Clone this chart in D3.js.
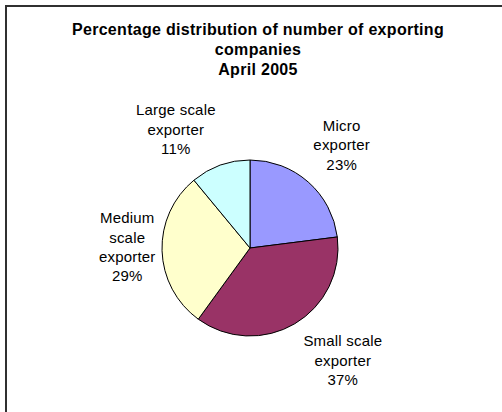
<!DOCTYPE html>
<html>
<head>
<meta charset="utf-8">
<script src="https://cdn.jsdelivr.net/npm/d3@7"></script>
<style>
  html, body { margin: 0; padding: 0; background: #fff; }
  svg { display: block; }
  text { font-family: "Liberation Sans", Arial, sans-serif; fill: #000; }
</style>
</head>
<body>
<svg id="chart" width="502" height="412"></svg>
<script>
// Exporting companies by size, April 2005 (percent of total)
const categories = ["Micro exporter", "Small scale exporter", "Medium scale exporter", "Large scale exporter"];
const values = [23, 37, 29, 11];
const colors = ["#9999FF", "#993366", "#FFFFCC", "#CCFFFF"];
const labelLines = [
  ["Micro", "exporter"],
  ["Small scale", "exporter"],
  ["Medium", "scale", "exporter"],
  ["Large scale", "exporter"]
];
const titleLines = ["Percentage distribution of number of exporting", "companies", "April 2005"];

const svg = d3.select("#chart");

// chart frame (runs past the right and bottom edges)
svg.append("rect")
  .attr("x", 6).attr("y", 6)
  .attr("width", 510).attr("height", 420)
  .attr("fill", "#fff")
  .attr("stroke", "#303030")
  .attr("stroke-width", 2);

// title
svg.append("g").selectAll("text")
  .data(titleLines)
  .join("text")
  .attr("x", 258)
  .attr("y", (d, i) => 35 + i * 20)
  .attr("text-anchor", "middle")
  .style("font-size", "16px")
  .style("font-weight", "bold")
  .style("letter-spacing", "0.3px")
  .text(d => d);

// pie
const cx = 250, cy = 248, r = 88;
const pie = d3.pie().sort(null).value(d => d.value)
  .startAngle(0).endAngle(2 * Math.PI);
const data = categories.map((c, i) => ({ cat: c, value: values[i], color: colors[i], lines: labelLines[i] }));
const arcs = pie(data);
const arc = d3.arc().innerRadius(0).outerRadius(r);

const g = svg.append("g").attr("transform", `translate(${cx},${cy})`);
g.selectAll("path")
  .data(arcs)
  .join("path")
  .attr("d", arc)
  .attr("fill", d => d.data.color)
  .attr("stroke", "#000")
  .attr("stroke-width", 1)
  .attr("stroke-linejoin", "round");

// data labels placed outside each slice
const labelArc = d3.arc().innerRadius(r * 1.18).outerRadius(r * 1.18);
const labelOffsets = [[23, -39], [40, 9], [-19, -28], [-39, -35]];
const lineH = 19.3;
arcs.forEach((a, i) => {
  const lines = a.data.lines.concat([a.data.value + "%"]);
  const [mx, my] = labelArc.centroid(a);
  const [ox, oy] = labelOffsets[i];
  const t = g.append("text")
    .attr("text-anchor", "middle")
    .style("font-size", "15px")
    .style("letter-spacing", "0.2px");
  lines.forEach((ln, k) => {
    t.append("tspan")
      .attr("x", mx + ox)
      .attr("y", my + oy + k * lineH)
      .text(ln);
  });
});
</script>
</body>
</html>
